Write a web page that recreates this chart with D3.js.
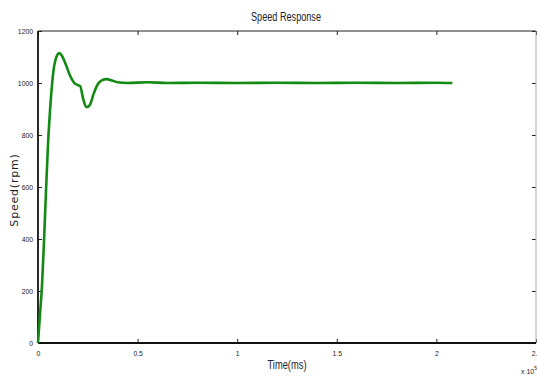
<!DOCTYPE html>
<html>
<head>
<meta charset="utf-8">
<script src="https://cdn.jsdelivr.net/npm/d3@7"></script>
<style>
body { margin: 0; background: #fff; }
svg { display: block; }
text { font-family: "Liberation Sans", Arial, sans-serif; fill: #222; }
.tick text { font-size: 8px; }
</style>
</head>
<body>
<svg width="537" height="376"></svg>
<script>
// time in units of 1e5 ms, speed in rpm
var timeVals = [0, 0.01, 0.02, 0.03, 0.04, 0.05, 0.06, 0.07, 0.08, 0.09, 0.107, 0.12, 0.14, 0.16, 0.18, 0.2, 0.212, 0.225, 0.242, 0.26, 0.28, 0.3, 0.32, 0.345, 0.37, 0.4, 0.45, 0.55, 0.65, 0.8, 1.0, 1.2, 1.4, 1.6, 1.8, 2.0, 2.08];
var speedVals = [0, 110, 220, 390, 580, 760, 890, 990, 1060, 1095, 1115, 1105, 1070, 1030, 1002, 992, 988, 945, 907, 915, 960, 995, 1010, 1015, 1010, 1003, 1000, 1003, 1000, 1001, 1000, 1001, 1000, 1001, 1000, 1001, 1000];
var xTicks = [0, 0.5, 1, 1.5, 2, 2.5];
var yTicks = [0, 200, 400, 600, 800, 1000, 1200];

var data = timeVals.map(function(t, i) { return {t: t, v: speedVals[i]}; });

var margin = {top: 31, right: 1, bottom: 33, left: 38},
    width = 537 - margin.left - margin.right,
    height = 376 - margin.top - margin.bottom;

var svg = d3.select("svg");
var g = svg.append("g")
  .attr("transform", "translate(" + margin.left + "," + margin.top + ")");

var x = d3.scaleLinear().domain([0, 2.5]).range([0, width]);
var y = d3.scaleLinear().domain([0, 1200]).range([height, 0]);

// bottom axis (inward ticks)
var xb = g.append("g")
  .attr("transform", "translate(0," + height + ")")
  .call(d3.axisBottom(x).tickValues(xTicks).tickSize(-4).tickPadding(7).tickFormat(d3.format("")));
xb.select(".domain").remove();
xb.selectAll("line").attr("stroke", "#222");

// top axis ticks
var xt = g.append("g")
  .call(d3.axisTop(x).tickValues(xTicks).tickSize(-4).tickFormat(""));
xt.select(".domain").remove();
xt.selectAll("line").attr("stroke", "#222");

// left axis
var yl = g.append("g")
  .call(d3.axisLeft(y).tickValues(yTicks).tickSize(-4).tickPadding(5).tickFormat(d3.format("")));
yl.select(".domain").remove();
yl.selectAll("line").attr("stroke", "#222");

// right axis ticks
var yr = g.append("g")
  .attr("transform", "translate(" + width + ",0)")
  .call(d3.axisRight(y).tickValues(yTicks).tickSize(-4).tickFormat(""));
yr.select(".domain").remove();
yr.selectAll("line").attr("stroke", "#222");

// condense tick labels a little
g.selectAll(".tick text").attr("textLength", function() {
  return this.getComputedTextLength() * 0.85;
}).attr("lengthAdjust", "spacingAndGlyphs");

// frame
g.append("line").attr("x1", 0).attr("x2", width).attr("y1", 0).attr("y2", 0)
  .attr("stroke", "#222").attr("stroke-width", 1.2);
g.append("line").attr("x1", width).attr("x2", width).attr("y1", 0).attr("y2", height)
  .attr("stroke", "#aaa").attr("stroke-width", 1);
g.append("line").attr("x1", 0).attr("x2", width).attr("y1", height).attr("y2", height)
  .attr("stroke", "#111").attr("stroke-width", 1.8);
g.append("line").attr("x1", 0).attr("x2", 0).attr("y1", 0).attr("y2", height)
  .attr("stroke", "#111").attr("stroke-width", 1.8);

// speed curve
var line = d3.line()
  .x(function(d) { return x(d.t); })
  .y(function(d) { return y(d.v); })
  .curve(d3.curveMonotoneX);

g.append("path")
  .datum(data)
  .attr("fill", "none")
  .attr("stroke", "#138a13")
  .attr("stroke-width", 2.6)
  .attr("d", line);

// labels
svg.append("text")
  .attr("x", 286)
  .attr("y", 21)
  .attr("text-anchor", "middle")
  .attr("textLength", 70)
  .attr("lengthAdjust", "spacingAndGlyphs")
  .style("font-size", "12px")
  .text("Speed Response");

svg.append("text")
  .attr("x", 287)
  .attr("y", 369)
  .attr("text-anchor", "middle")
  .attr("textLength", 39)
  .attr("lengthAdjust", "spacingAndGlyphs")
  .style("font-size", "12px")
  .text("Time(ms)");

svg.append("text")
  .attr("transform", "translate(18,190) rotate(-90)")
  .attr("text-anchor", "middle")
  .style("font-size", "11px")
  .style("letter-spacing", "0.8px")
  .style("font-family", "'DejaVu Sans', sans-serif")
  .text("Speed(rpm)");

var exp = svg.append("text")
  .attr("x", 521)
  .attr("y", 374)
  .style("font-size", "7px");
exp.append("tspan").text("x 10");
exp.append("tspan").attr("dy", -4).style("font-size", "5px").text("5");
</script>
</body>
</html>
